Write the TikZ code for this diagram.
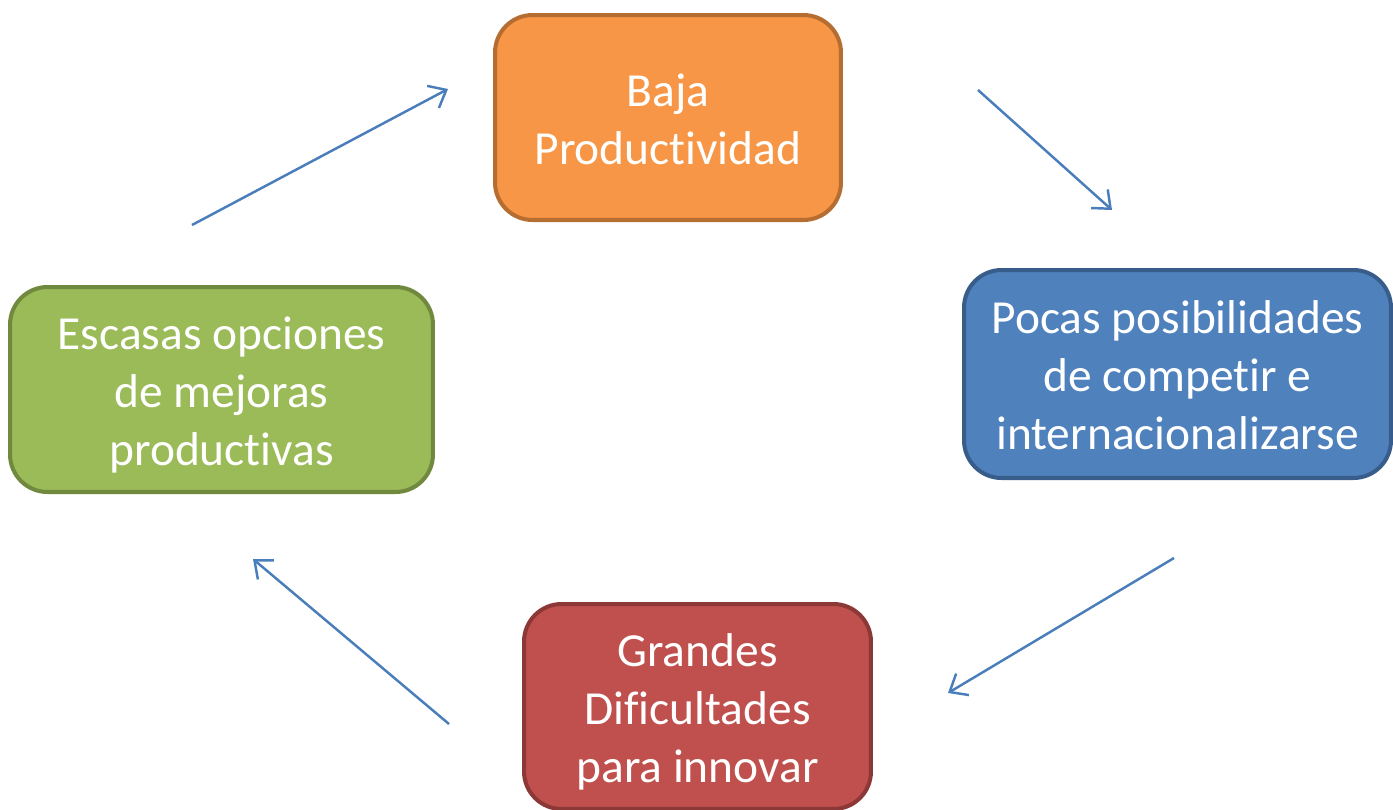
\documentclass[tikz,border=0pt]{standalone}
\usepackage{fontspec}
\setmainfont{Carlito}[Ligatures=NoCommon]
\usetikzlibrary{arrows.meta}
\definecolor{bajafill}{RGB}{247,150,70}
\definecolor{bajaline}{RGB}{182,109,49}
\definecolor{pocasfill}{RGB}{79,129,189}
\definecolor{pocasline}{RGB}{56,93,138}
\definecolor{grandesfill}{RGB}{192,80,77}
\definecolor{grandesline}{RGB}{140,56,54}
\definecolor{escasasfill}{RGB}{155,187,89}
\definecolor{escasasline}{RGB}{113,137,63}
\definecolor{flechablue}{RGB}{74,126,187}

\begin{document}
\begin{tikzpicture}[x=0.02cm, y=-0.02cm, >={Straight Barb[length=0.3cm, width=0.5cm]},
  caja/.style={draw, line width=2.3pt, rounded corners=0.75cm, text=white,
    align=center, inner sep=0pt, font=\fontsize{27}{33}\selectfont, text depth=7pt},
  doslineas/.style={text height=60pt},
  treslineas/.style={text height=93pt},
  flecha/.style={->, flechablue, line width=1.4pt}]
  \useasboundingbox (0,0) rectangle (1393,809);

  % Cycle boxes
  \node[caja, doslineas, fill=bajafill, draw=bajaline, minimum width=6.92cm, minimum height=4.1cm]
    (baja) at (668,117.5) {Baja\\Productividad};
  \node[caja, treslineas, fill=pocasfill, draw=pocasline, minimum width=8.54cm, minimum height=4.16cm]
    (pocas) at (1177.5,374) {Pocas posibilidades\\de competir e\\internacionalizarse};
  \node[caja, treslineas, fill=grandesfill, draw=grandesline, minimum width=6.94cm, minimum height=4.1cm]
    (grandes) at (697.5,706.5) {Grandes\\Dificultades\\para innovar};
  \node[caja, treslineas, fill=escasasfill, draw=escasasline, minimum width=8.46cm, minimum height=4.1cm]
    (escasas) at (221.5,389.5) {Escasas opciones\\de mejoras\\productivas};

  % Arrow ends
  \coordinate (a1) at (192,225);  \coordinate (b1) at (448,89);
  \coordinate (a2) at (978,90);   \coordinate (b2) at (1112,210);
  \coordinate (a3) at (1174,558); \coordinate (b3) at (948,693);
  \coordinate (a4) at (449,724);  \coordinate (b4) at (253,559);

  % Arrows
  \draw[flecha] (a1) -- (b1);
  \draw[flecha] (a2) -- (b2);
  \draw[flecha] (a3) -- (b3);
  \draw[flecha] (a4) -- (b4);
\end{tikzpicture}
\end{document}
